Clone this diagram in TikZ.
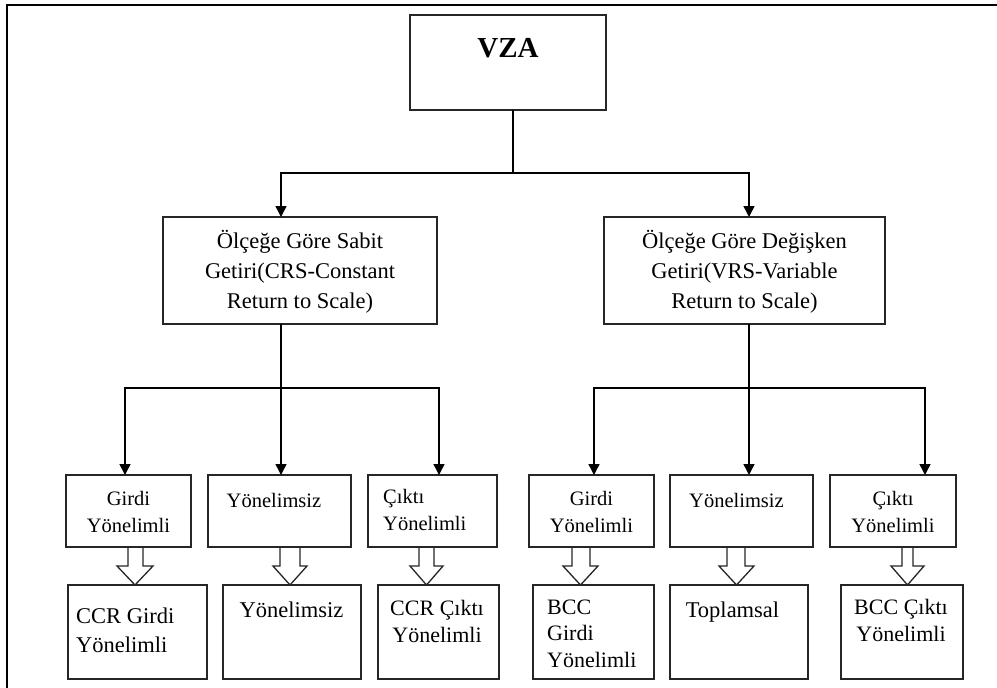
\documentclass[tikz,border=0pt]{standalone}
\usepackage{fontspec}
\setmainfont{Liberation Serif}
\usetikzlibrary{arrows.meta}
\newcommand\hollowArr[4]{\draw[blk] (#1,547) -- (#1,566) -- (#3,566) -- ({(#3+#4)/2},585) -- (#4,566) -- (#2,566) -- (#2,547);}
\begin{document}
\begin{tikzpicture}[x=1pt,y=-1pt,
 box/.style={draw=black!85,line width=1.4pt,rectangle,inner sep=0pt,outer sep=0pt},
 txtA/.style={font=\fontsize{22.5}{30}\selectfont,anchor=base,align=center,inner sep=0pt},
 txtB/.style={font=\fontsize{20.5}{27.5}\selectfont,anchor=base,align=center,inner sep=0pt},
 txtC/.style={font=\fontsize{22.5}{29.5}\selectfont,anchor=base,align=center,inner sep=0pt},
 txtD/.style={font=\fontsize{22}{27}\selectfont,anchor=base,align=center,inner sep=0pt},
 conn/.style={line width=1.5pt,black},
 arr/.style={conn,-{Triangle[length=11pt,width=11pt]}},
 blk/.style={draw=black!85,line width=1.3pt,fill=white,line join=miter}]
\useasboundingbox (0,0) rectangle (997,688);
\fill[white] (0,0) rectangle (997,688);
\draw[line width=2.6pt] (7,688) -- (7,5) -- (997,5);

% hollow arrows (drawn first, boxes on top)
\hollowArr{128}{143}{117}{153}
\hollowArr{280}{300}{273}{307}
\hollowArr{419}{434}{410}{443}
\hollowArr{572}{590}{563}{598}
\hollowArr{727}{745}{719}{754}
\hollowArr{902}{913}{891}{924}

% boxes
\node[box,minimum width=196pt,minimum height=95pt] (vza) at (508,62.5) {};
\node[box,minimum width=274pt,minimum height=107pt] (crs) at (300,270.5) {};
\node[box,minimum width=281pt,minimum height=107pt] (vrs) at (744.5,270.5) {};
\node[box,minimum width=125pt,minimum height=72pt] (g1) at (128.5,511) {};
\node[box,minimum width=143pt,minimum height=72pt] (y1) at (279.5,511) {};
\node[box,minimum width=129pt,minimum height=72pt] (c1) at (432.5,511) {};
\node[box,minimum width=125pt,minimum height=72pt] (g2) at (591.5,511) {};
\node[box,minimum width=143pt,minimum height=72pt] (y2) at (741.5,511) {};
\node[box,minimum width=126pt,minimum height=72pt] (c2) at (893,511) {};
\node[box,minimum width=139pt,minimum height=94pt] (b1) at (137.5,632) {};
\node[box,minimum width=138pt,minimum height=94pt] (b2) at (292,632) {};
\node[box,minimum width=121pt,minimum height=94pt] (b3) at (438.5,632) {};
\node[box,minimum width=121pt,minimum height=94pt] (b4) at (593.5,632) {};
\node[box,minimum width=138pt,minimum height=94pt] (b5) at (739,632) {};
\node[box,minimum width=122pt,minimum height=94pt] (b6) at (902,632) {};

% texts (anchor base = baseline of the last line)
\node[font=\fontsize{29}{34}\selectfont\bfseries,anchor=base,inner sep=0pt] (tvza) at (508,57) {VZA};
\node[txtA] (tcrs) at (300,308) {Ölçeğe Göre Sabit\\Getiri(CRS-Constant\\Return to Scale)};
\node[txtA] (tvrs) at (744.5,308) {Ölçeğe Göre Değişken\\Getiri(VRS-Variable\\Return to Scale)};
\node[txtB] (tg1) at (128.5,532.5) {Girdi\\Yönelimli};
\node[txtB] (ty1) at (274,507) {Yönelimsiz};
\node[txtB,anchor=base west,align=left] (tc1) at (383,530.5) {Çıktı\\Yönelimli};
\node[txtB] (tg2) at (591.5,532.5) {Girdi\\Yönelimli};
\node[txtB] (ty2) at (736.5,507) {Yönelimsiz};
\node[txtB] (tc2) at (893,532.5) {Çıktı\\Yönelimli};
\node[txtC,anchor=base west,align=left] (tb1) at (76,652.5) {CCR Girdi\\Yönelimli};
\node[txtC] (tb2) at (291.5,617) {Yönelimsiz};
\node[txtD] (tb3) at (437,642) {CCR Çıktı\\Yönelimli};
\node[txtD,font=\fontsize{22}{26.5}\selectfont,anchor=base west,align=left] (tb4) at (547,667) {BCC\\Girdi\\Yönelimli};
\node[txtC] (tb5) at (732.5,617) {Toplamsal};
\node[txtD] (tb6) at (901,641) {BCC Çıktı\\Yönelimli};

% connectors
\coordinate (j0) at (513,173);
\coordinate (xa) at (281,0);
\coordinate (xb) at (749,0);
\draw[conn] (vza.south -| j0) -- (j0);
\draw[arr] (j0) -| (crs.north -| xa);
\draw[arr] (j0) -| (vrs.north -| xb);
\coordinate (j1) at (281,388);
\coordinate (j2) at (749,388);
\coordinate (p1) at (125,0);
\coordinate (p3) at (439,0);
\coordinate (p4) at (594,0);
\coordinate (p6) at (925,0);
\draw[conn] (crs.south -| j1) -- (j1);
\draw[arr] (j1) -| (g1.north -| p1);
\draw[arr] (j1) -- (y1.north -| j1);
\draw[arr] (j1) -| (c1.north -| p3);
\draw[conn] (vrs.south -| j2) -- (j2);
\draw[arr] (j2) -| (g2.north -| p4);
\draw[arr] (j2) -- (y2.north -| j2);
\draw[arr] (j2) -| (c2.north -| p6);
\end{tikzpicture}
\end{document}
